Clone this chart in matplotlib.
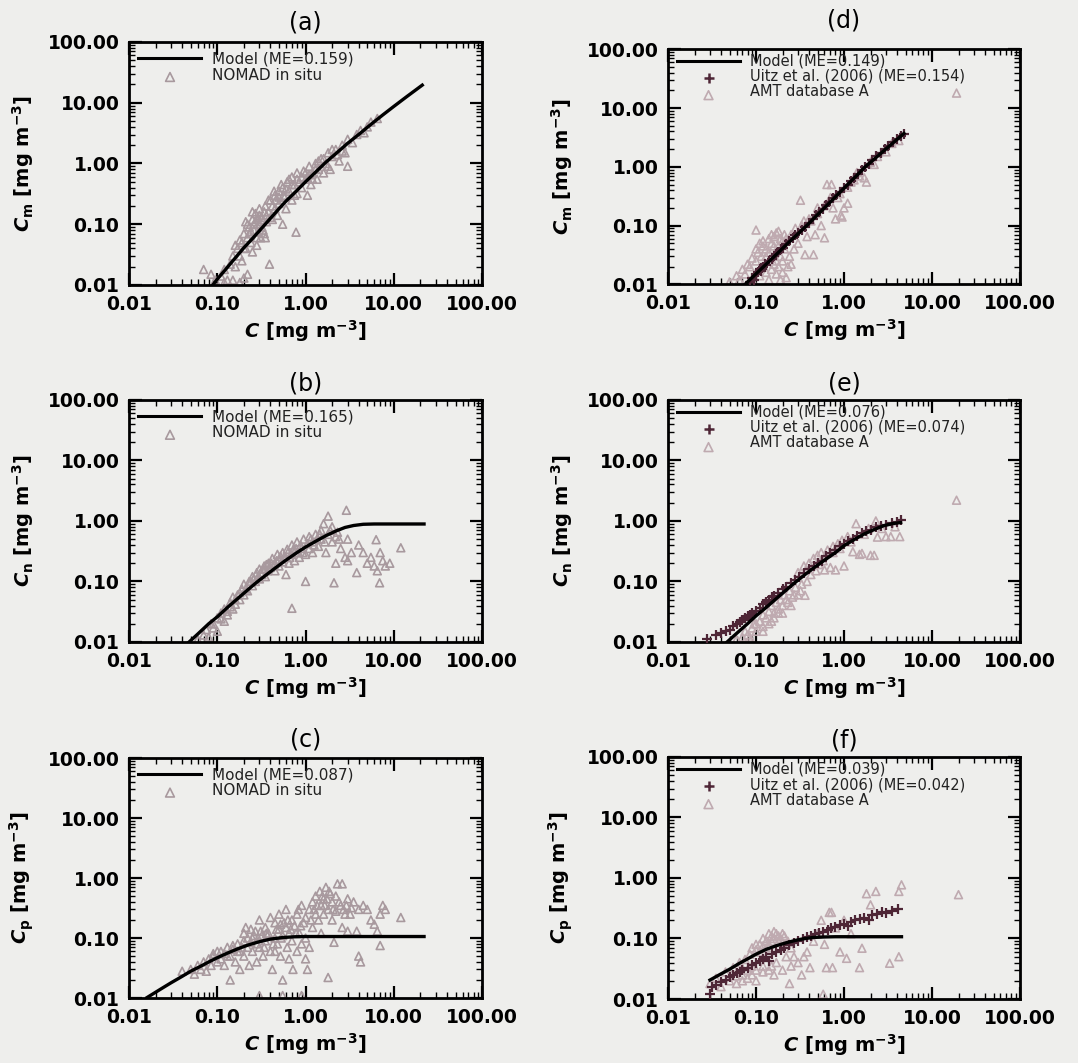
import numpy as np
import matplotlib
matplotlib.use('Agg')
import matplotlib.pyplot as plt
from matplotlib.ticker import LogLocator, FuncFormatter, NullFormatter

plt.rcParams['font.family'] = ['DejaVu Sans']
plt.rcParams['mathtext.fontset'] = 'custom'
plt.rcParams['mathtext.rm'] = 'DejaVu Sans:bold'
plt.rcParams['mathtext.it'] = 'DejaVu Sans:italic:bold'
plt.rcParams['mathtext.bf'] = 'DejaVu Sans:bold'

BG = '#eeeeec'
TRI_NOMAD = '#a8999e'
TRI_AMT = '#bfaab0'
CROSS = '#4e2636'

# ---- model curves ----
a_curve_C = [0.089, 0.1, 0.12, 0.15, 0.2, 0.25, 0.3, 0.4, 0.5, 0.6, 0.8, 1.0, 1.3, 1.7, 2.2, 3.0, 4.0,
             5.5, 7.5, 10.0, 14.0, 21.0]
a_curve_y = [0.010, 0.0125, 0.017, 0.025, 0.041, 0.058, 0.078, 0.125, 0.18, 0.24, 0.36, 0.50, 0.72, 1.05,
             1.45, 2.15, 3.0, 4.4, 6.3, 8.7, 12.6, 19.5]
b_curve_C = [0.048, 0.06, 0.08, 0.1, 0.13, 0.17, 0.22, 0.28, 0.35, 0.45, 0.6, 0.8, 1.0, 1.3, 1.7, 2.2,
             2.8, 3.5, 4.5, 6.0, 22.0]
b_curve_y = [0.010, 0.0135, 0.020, 0.026, 0.037, 0.052, 0.072, 0.097, 0.125, 0.165, 0.225, 0.30, 0.37,
             0.46, 0.57, 0.68, 0.78, 0.84, 0.88, 0.89, 0.89]
c_curve_C = [0.016, 0.02, 0.025, 0.03, 0.04, 0.05, 0.065, 0.08, 0.1, 0.13, 0.17, 0.22, 0.3, 0.4, 0.55,
             0.75, 1.0, 22.0]
c_curve_y = [0.0102, 0.0125, 0.0153, 0.018, 0.023, 0.028, 0.034, 0.040, 0.047, 0.056, 0.066, 0.076,
             0.087, 0.096, 0.102, 0.105, 0.106, 0.106]
d_curve_C = [0.075, 0.09, 0.11, 0.14, 0.18, 0.23, 0.3, 0.377, 0.5, 0.65, 0.85, 1.1, 1.4, 1.74, 2.2,
             2.8, 3.6, 4.8]
d_curve_y = [0.010, 0.013, 0.0173, 0.0244, 0.035, 0.050, 0.0725, 0.10, 0.153, 0.226, 0.339, 0.50,
             0.715, 1.0, 1.35, 1.85, 2.55, 3.7]
e_curve_C = [0.047, 0.06, 0.08, 0.1, 0.13, 0.17, 0.22, 0.28, 0.36, 0.46, 0.6, 0.8, 1.0, 1.33, 1.7,
             2.2, 2.8, 3.5, 4.4]
e_curve_y = [0.010, 0.0138, 0.020, 0.027, 0.037, 0.052, 0.072, 0.097, 0.13, 0.17, 0.225, 0.30, 0.39,
             0.50, 0.61, 0.72, 0.83, 0.90, 0.94]
f_curve_C = [0.03, 0.04, 0.05, 0.065, 0.08, 0.1, 0.13, 0.17, 0.22, 0.28, 0.36, 0.45, 0.6, 0.8, 1.0, 4.5]
f_curve_y = [0.0206, 0.026, 0.031, 0.039, 0.046, 0.055, 0.066, 0.076, 0.085, 0.093, 0.100, 0.104,
             0.106, 0.107, 0.107, 0.107]

# ---- NOMAD in situ (panels a-c) ----
a_tri_C = [0.070, 0.085, 0.095, 0.11, 0.12, 0.13, 0.14, 0.15, 0.16, 0.17, 0.18, 0.19, 0.20, 0.21,
           0.22, 0.23, 0.24, 0.25, 0.26, 0.27, 0.28, 0.30, 0.30, 0.32, 0.33, 0.35, 0.36, 0.38, 0.39,
           0.40, 0.42, 0.45, 0.45, 0.48, 0.50, 0.50, 0.55, 0.55, 0.58, 0.60, 0.62, 0.65, 0.70, 0.70,
           0.75, 0.78, 0.80, 0.80, 0.85, 0.90, 0.95, 1.0, 1.05, 1.1, 1.15, 1.2, 1.3, 1.35, 1.4, 1.5,
           1.6, 1.7, 1.8, 1.9, 2.0, 2.2, 2.4, 2.6, 2.8, 3.0, 3.0, 3.4, 3.8, 4.2, 4.6, 5.0, 5.5, 6.5,
           0.12, 0.15, 0.18, 0.20, 0.22, 0.25, 0.28, 0.31, 0.34, 0.23, 0.27, 0.29,
           0.16, 0.18, 0.20, 0.22, 0.24, 0.26, 0.28, 0.30, 0.32, 0.34, 0.36, 0.38, 0.40, 0.42, 0.44,
           0.46, 0.50, 0.53, 0.56, 0.60, 0.65, 0.70, 0.75, 0.80, 0.90, 1.0, 1.1, 1.2, 1.3, 1.4, 1.6,
           1.8, 2.0, 2.3, 2.6, 0.19, 0.21, 0.25, 0.29, 0.35]
a_tri_y = [0.018, 0.015, 0.012, 0.014, 0.018, 0.012, 0.022, 0.030, 0.020, 0.040, 0.030, 0.050, 0.070, 0.040,
           0.060, 0.090, 0.050, 0.120, 0.080, 0.150, 0.060, 0.10, 0.18, 0.13, 0.08, 0.20, 0.11, 0.16, 0.022,
           0.25, 0.12, 0.30, 0.18, 0.14, 0.35, 0.22, 0.10, 0.40, 0.28, 0.18, 0.50, 0.35, 0.60, 0.25,
           0.45, 0.074, 0.70, 0.32, 0.50, 0.40, 0.75, 0.55, 0.30, 0.90, 0.45, 0.70, 1.0, 0.55, 0.80, 1.2,
           0.70, 1.0, 1.5, 0.80, 1.3, 1.7, 1.1, 2.0, 1.5, 0.90, 2.5, 2.2, 3.0, 3.5, 3.2, 4.0, 4.8, 5.5,
           0.011, 0.012, 0.011, 0.013, 0.015, 0.035, 0.045, 0.06, 0.07, 0.07, 0.11, 0.13,
           0.045, 0.055, 0.040, 0.10, 0.075, 0.10, 0.12, 0.14, 0.09, 0.16, 0.14, 0.25, 0.13, 0.20, 0.35,
           0.25, 0.28, 0.45, 0.30, 0.38, 0.55, 0.45, 0.30, 0.55, 0.60, 0.70, 0.65, 0.55, 0.80, 1.1, 1.2,
           0.90, 1.7, 1.4, 1.6, 0.025, 0.11, 0.16, 0.075, 0.06]

b_tri_C = [0.06, 0.07, 0.075, 0.08, 0.085, 0.09, 0.10, 0.10, 0.11, 0.12, 0.12, 0.13, 0.14, 0.15, 0.15,
           0.16, 0.17, 0.18, 0.19, 0.20, 0.20, 0.22, 0.23, 0.25, 0.25, 0.27, 0.28, 0.30, 0.30, 0.32,
           0.34, 0.35, 0.37, 0.38, 0.40, 0.42, 0.45, 0.45, 0.48, 0.50, 0.50, 0.55, 0.55, 0.60, 0.60,
           0.62, 0.65, 0.68, 0.70, 0.70, 0.75, 0.80, 0.80, 0.85, 0.90, 0.95, 1.0, 1.0, 1.05, 1.1, 1.2,
           1.2, 1.3, 1.4, 1.5, 1.5, 1.6, 1.7, 1.8, 1.8, 2.0, 2.0, 2.1, 2.2, 2.3, 2.5, 2.9, 2.8, 3.0,
           3.0, 3.3, 3.8, 4.0, 4.5, 5.0, 5.5, 6.3, 6.0, 6.5, 7.0, 6.9, 7.5, 8.0, 9.0, 12.0,
           0.09, 0.11, 0.13, 0.14, 0.16, 0.18, 0.21, 0.24, 0.26, 0.29, 0.31, 0.33, 0.36, 0.39, 0.41,
           0.44, 0.47, 0.52, 0.57, 0.63, 0.66, 0.72, 0.78, 0.83, 0.88, 0.93, 1.1, 1.15, 1.25, 1.35,
           1.45, 1.65, 1.9, 2.2, 2.4]
b_tri_y = [0.011, 0.013, 0.016, 0.012, 0.020, 0.017, 0.025, 0.015, 0.030, 0.022, 0.035, 0.028, 0.045, 0.035, 0.055,
           0.042, 0.060, 0.050, 0.075, 0.060, 0.090, 0.070, 0.10, 0.085, 0.12, 0.10, 0.14, 0.11, 0.16, 0.13,
           0.18, 0.12, 0.15, 0.20, 0.17, 0.24, 0.15, 0.20, 0.28, 0.18, 0.23, 0.30, 0.21, 0.25, 0.13,
           0.34, 0.20, 0.28, 0.036, 0.40, 0.22, 0.30, 0.45, 0.25, 0.35, 0.50, 0.10, 0.28, 0.42, 0.55, 0.30,
           0.45, 0.60, 0.38, 0.70, 0.50, 0.90, 0.30, 0.60, 1.20, 0.45, 0.80, 0.095, 0.20, 0.65, 0.35, 1.5, 0.25, 0.50,
           0.22, 0.30, 0.14, 0.40, 0.30, 0.20, 0.25, 0.49, 0.18, 0.15, 0.30, 0.095, 0.22, 0.18, 0.20, 0.36,
           0.020, 0.024, 0.032, 0.038, 0.050, 0.065, 0.075, 0.10, 0.11, 0.12, 0.14, 0.16, 0.19, 0.17, 0.20,
           0.19, 0.22, 0.26, 0.25, 0.30, 0.25, 0.33, 0.35, 0.30, 0.40, 0.30, 0.35, 0.50, 0.40, 0.50,
           0.60, 0.45, 0.70, 0.55, 0.50]

c_tri_C = [0.04, 0.05, 0.055, 0.06, 0.065, 0.07, 0.075, 0.08, 0.085, 0.09, 0.10, 0.10, 0.11, 0.12, 0.12,
           0.13, 0.14, 0.14, 0.15, 0.16, 0.17, 0.18, 0.18, 0.20, 0.20, 0.21, 0.22, 0.23, 0.25, 0.25,
           0.27, 0.28, 0.28, 0.30, 0.30, 0.32, 0.33, 0.35, 0.35, 0.38, 0.40, 0.40, 0.42, 0.45, 0.45,
           0.48, 0.50, 0.50, 0.52, 0.55, 0.55, 0.60, 0.60, 0.62, 0.65, 0.65, 0.70, 0.70, 0.72, 0.75,
           0.80, 0.80, 0.85, 0.90, 0.90, 0.95, 1.0, 1.0, 1.0, 1.05, 1.1, 1.1, 1.2, 1.2, 1.3, 1.3, 1.4,
           1.45, 1.5, 1.5, 1.6, 1.6, 1.7, 1.8, 1.8, 1.9, 2.0, 2.0, 2.1, 2.2, 2.3, 2.5, 2.6, 2.6, 2.8,
           3.0, 3.0, 3.3, 3.5, 3.8, 4.0, 4.0, 4.2, 4.5, 5.0, 5.5, 6.0, 6.5, 7.0, 7.0, 7.5, 8.0, 12.0,
           0.30, 0.55, 0.90,
           0.09, 0.11, 0.13, 0.15, 0.17, 0.19, 0.22, 0.24, 0.26, 0.29, 0.31, 0.34, 0.37, 0.43, 0.47,
           0.53, 0.57, 0.63, 0.68, 0.78, 0.83, 0.88, 1.15, 1.25, 1.35, 1.55, 1.65, 1.75, 1.85, 2.05,
           2.2, 2.4, 2.7, 2.9, 3.2, 0.20, 0.24, 0.36, 0.45, 0.52]
c_tri_y = [0.028, 0.030, 0.025, 0.035, 0.030, 0.040, 0.028, 0.045, 0.035, 0.050, 0.040, 0.060, 0.045, 0.055, 0.035,
           0.070, 0.050, 0.020, 0.065, 0.040, 0.080, 0.060, 0.030, 0.090, 0.050, 0.15, 0.070, 0.035, 0.10, 0.060,
           0.13, 0.080, 0.040, 0.070, 0.20, 0.11, 0.050, 0.090, 0.15, 0.12, 0.060, 0.22, 0.030, 0.10, 0.18,
           0.080, 0.14, 0.25, 0.050, 0.11, 0.020, 0.30, 0.15, 0.070, 0.12, 0.045, 0.20, 0.090, 0.030, 0.16,
           0.25, 0.060, 0.12, 0.080, 0.35, 0.18, 0.045, 0.10, 0.22, 0.030, 0.070, 0.30, 0.15, 0.40, 0.25, 0.50, 0.20,
           0.60, 0.35, 0.12, 0.45, 0.25, 0.70, 0.30, 0.022, 0.55, 0.20, 0.40, 0.085, 0.28, 0.80, 0.35, 0.80, 0.15, 0.25,
           0.45, 0.13, 0.32, 0.40, 0.13, 0.050, 0.30, 0.040, 0.35, 0.30, 0.20, 0.17, 0.13, 0.075, 0.25, 0.35, 0.30, 0.22,
           0.011, 0.011, 0.011,
           0.055, 0.060, 0.050, 0.075, 0.060, 0.070, 0.10, 0.085, 0.11, 0.10, 0.13, 0.070, 0.11, 0.080, 0.14,
           0.10, 0.18, 0.20, 0.14, 0.12, 0.30, 0.16, 0.20, 0.30, 0.35, 0.50, 0.35, 0.45, 0.60, 0.30,
           0.50, 0.40, 0.30, 0.35, 0.25, 0.12, 0.14, 0.12, 0.060, 0.17]

# ---- Uitz et al. (2006) and AMT database A (panels d-f) ----
d_cross_C = [0.085, 0.09, 0.095, 0.10, 0.105, 0.11, 0.115, 0.12, 0.125, 0.13, 0.14, 0.15, 0.16, 0.17, 0.18,
             0.19, 0.20, 0.22, 0.24, 0.26, 0.28, 0.30, 0.33, 0.36, 0.40, 0.44, 0.48, 0.52, 0.57, 0.62,
             0.68, 0.75, 0.82, 0.90, 1.0, 1.1, 1.2, 1.3, 1.45, 1.6, 1.75, 1.9, 2.1, 2.3, 2.6, 2.9, 3.2,
             3.6, 4.0, 4.5, 4.8]
d_cross_y = [0.011, 0.013, 0.012, 0.015, 0.016, 0.018, 0.017, 0.020, 0.022, 0.021, 0.025, 0.027, 0.030, 0.033, 0.036,
             0.040, 0.042, 0.048, 0.055, 0.062, 0.068, 0.075, 0.085, 0.095, 0.11, 0.13, 0.15, 0.17, 0.19, 0.22,
             0.25, 0.29, 0.33, 0.38, 0.43, 0.50, 0.58, 0.65, 0.75, 0.88, 1.0, 1.1, 1.3, 1.5, 1.75, 2.0, 2.3,
             2.6, 3.0, 3.4, 3.6]
d_tri_C = [0.05, 0.06, 0.065, 0.07, 0.075, 0.08, 0.085, 0.09, 0.09, 0.10, 0.10, 0.105, 0.11, 0.115, 0.12,
           0.12, 0.13, 0.13, 0.14, 0.14, 0.15, 0.15, 0.16, 0.16, 0.17, 0.17, 0.18, 0.18, 0.19, 0.19,
           0.20, 0.20, 0.21, 0.22, 0.24, 0.25, 0.27, 0.30, 0.32, 0.33, 0.36, 0.38, 0.42, 0.45, 0.47,
           0.50, 0.55, 0.60, 0.64, 0.72, 0.75, 0.80, 0.85, 0.92, 0.95, 1.0, 1.1, 1.2, 1.3, 1.5, 1.7,
           1.8, 2.0, 2.4, 3.0, 3.5, 4.2, 19.0,
           0.10, 0.11, 0.12, 0.13, 0.14, 0.15, 0.16, 0.17, 0.18, 0.19, 0.20, 0.21, 0.22, 0.23, 0.25,
           0.28, 0.35, 0.40, 0.50, 0.60, 0.70, 0.90, 1.1, 1.4, 2.2]
d_tri_y = [0.011, 0.014, 0.012, 0.018, 0.015, 0.022, 0.020, 0.012, 0.028, 0.025, 0.084, 0.035, 0.014, 0.030, 0.045,
           0.020, 0.016, 0.040, 0.060, 0.012, 0.018, 0.050, 0.022, 0.065, 0.015, 0.075, 0.020, 0.045, 0.012, 0.060,
           0.025, 0.016, 0.070, 0.013, 0.030, 0.022, 0.040, 0.050, 0.27, 0.10, 0.032, 0.065, 0.12, 0.032, 0.070,
           0.16, 0.10, 0.062, 0.50, 0.50, 0.20, 0.13, 0.30, 0.15, 0.14, 0.20, 0.24, 0.55, 0.60, 0.70, 0.65,
           0.55, 1.2, 1.5, 1.8, 2.5, 2.8, 18.0,
           0.040, 0.050, 0.055, 0.030, 0.035, 0.070, 0.045, 0.025, 0.080, 0.030, 0.055, 0.040, 0.060, 0.020, 0.070,
           0.090, 0.12, 0.13, 0.20, 0.22, 0.30, 0.35, 0.45, 0.80, 1.1]

e_cross_C = [0.028, 0.035, 0.04, 0.045, 0.05, 0.055, 0.06, 0.065, 0.07, 0.075, 0.08, 0.085, 0.09, 0.10, 0.11,
             0.12, 0.13, 0.14, 0.15, 0.16, 0.18, 0.20, 0.22, 0.25, 0.28, 0.31, 0.35, 0.40, 0.45, 0.50,
             0.56, 0.63, 0.70, 0.80, 0.90, 1.0, 1.1, 1.25, 1.4, 1.6, 1.8, 2.0, 2.3, 2.6, 3.0, 3.5, 4.0, 4.5]
e_cross_y = [0.011, 0.013, 0.014, 0.015, 0.016, 0.018, 0.020, 0.021, 0.023, 0.025, 0.027, 0.028, 0.030, 0.033, 0.037,
             0.042, 0.046, 0.050, 0.055, 0.058, 0.065, 0.075, 0.082, 0.093, 0.105, 0.12, 0.14, 0.16, 0.18, 0.20,
             0.22, 0.26, 0.29, 0.33, 0.38, 0.42, 0.46, 0.50, 0.56, 0.62, 0.68, 0.72, 0.78, 0.82, 0.87, 0.92, 0.95, 1.05]
e_tri_C = [0.06, 0.07, 0.075, 0.08, 0.09, 0.095, 0.10, 0.11, 0.12, 0.12, 0.13, 0.14, 0.15, 0.15, 0.16,
           0.17, 0.18, 0.19, 0.20, 0.21, 0.22, 0.24, 0.26, 0.28, 0.30, 0.33, 0.36, 0.30, 0.35, 0.40,
           0.45, 0.50, 0.55, 0.60, 0.70, 0.65, 0.75, 0.80, 0.85, 1.0, 0.95, 1.1, 1.26, 1.37, 1.5, 1.6,
           1.7, 2.0, 2.2, 2.3, 2.4, 2.7, 3.0, 3.4, 3.8, 4.3, 19.0,
           0.085, 0.10, 0.12, 0.14, 0.16, 0.18, 0.20, 0.23, 0.25, 0.27, 0.32, 0.38, 0.42, 0.48, 0.52,
           0.58, 0.75, 0.90, 1.2, 1.9]
e_tri_y = [0.011, 0.012, 0.015, 0.013, 0.017, 0.020, 0.015, 0.022, 0.018, 0.028, 0.025, 0.032, 0.022, 0.040, 0.030,
           0.045, 0.035, 0.050, 0.040, 0.060, 0.050, 0.070, 0.055, 0.080, 0.060, 0.090, 0.059, 0.14, 0.18, 0.20,
           0.24, 0.27, 0.30, 0.155, 0.17, 0.33, 0.38, 0.155, 0.42, 0.18, 0.48, 0.55, 0.31, 0.90, 0.28, 0.29,
           0.60, 0.27, 0.27, 1.0, 0.54, 0.75, 0.55, 0.55, 0.80, 0.55, 2.2,
           0.012, 0.020, 0.015, 0.020, 0.025, 0.030, 0.030, 0.045, 0.040, 0.060, 0.070, 0.10, 0.13, 0.15, 0.19,
           0.22, 0.30, 0.35, 0.45, 0.75]

f_cross_C = [0.03, 0.032, 0.035, 0.04, 0.045, 0.05, 0.055, 0.06, 0.065, 0.07, 0.08, 0.09, 0.10, 0.11, 0.12,
             0.13, 0.14, 0.15, 0.17, 0.19, 0.21, 0.24, 0.27, 0.30, 0.34, 0.38, 0.42, 0.47, 0.52, 0.58,
             0.65, 0.72, 0.80, 0.90, 1.0, 1.1, 1.2, 1.35, 1.5, 1.7, 1.9, 2.1, 2.4, 2.7, 3.0, 3.5, 4.1]
f_cross_y = [0.012, 0.016, 0.017, 0.019, 0.021, 0.023, 0.025, 0.027, 0.028, 0.030, 0.033, 0.036, 0.040, 0.043, 0.046,
             0.050, 0.043, 0.055, 0.060, 0.065, 0.070, 0.077, 0.083, 0.090, 0.097, 0.105, 0.11, 0.118, 0.125, 0.13,
             0.14, 0.148, 0.155, 0.165, 0.175, 0.16, 0.19, 0.20, 0.21, 0.22, 0.20, 0.24, 0.25, 0.27, 0.26, 0.29, 0.31]
f_tri_C = [0.03, 0.035, 0.04, 0.045, 0.05, 0.055, 0.06, 0.065, 0.07, 0.075, 0.08, 0.085, 0.09, 0.10, 0.10,
           0.11, 0.12, 0.12, 0.13, 0.14, 0.15, 0.15, 0.16, 0.17, 0.18, 0.20, 0.20, 0.22, 0.24, 0.25,
           0.27, 0.30, 0.33, 0.38, 0.41, 0.45, 0.50, 0.55, 0.58, 0.60, 0.63, 0.68, 0.72, 0.74, 0.80,
           0.90, 1.0, 1.07, 1.2, 1.5, 1.6, 1.8, 2.0, 2.3, 3.3, 4.2, 4.2, 4.5, 20.0,
           0.09, 0.10, 0.11, 0.12, 0.13, 0.14, 0.15, 0.16, 0.17, 0.18, 0.19, 0.20, 0.21, 0.22, 0.23,
           0.06, 0.07, 0.08, 0.09, 0.10, 0.12, 0.14, 0.16, 0.25, 0.35]
f_tri_y = [0.018, 0.022, 0.016, 0.028, 0.020, 0.033, 0.024, 0.040, 0.020, 0.045, 0.030, 0.055, 0.025, 0.065, 0.030,
           0.080, 0.035, 0.10, 0.070, 0.12, 0.035, 0.090, 0.13, 0.040, 0.11, 0.030, 0.085, 0.050, 0.018, 0.070,
           0.050, 0.040, 0.025, 0.060, 0.033, 0.090, 0.12, 0.20, 0.012, 0.080, 0.033, 0.27, 0.27, 0.033, 0.15,
           0.060, 0.20, 0.047, 0.12, 0.033, 0.069, 0.55, 0.36, 0.60, 0.039, 0.050, 0.60, 0.77, 0.53,
           0.070, 0.080, 0.060, 0.075, 0.090, 0.080, 0.11, 0.10, 0.12, 0.090, 0.10, 0.12, 0.11, 0.080, 0.090,
           0.018, 0.025, 0.022, 0.035, 0.020, 0.028, 0.030, 0.025, 0.035, 0.050]

panels = [
    dict(tag='(a)', pos=[0.1197, 0.7319, 0.3275, 0.2286], yl=r'$\mathit{C}_\mathrm{m}$ [mg m$^{-3}$]',
         curve=(a_curve_C, a_curve_y), tri=(a_tri_C, a_tri_y), cross=None, me='0.159', tpad=9),
    dict(tag='(b)', pos=[0.1197, 0.3961, 0.3275, 0.2277], yl=r'$\mathit{C}_\mathrm{n}$ [mg m$^{-3}$]',
         curve=(b_curve_C, b_curve_y), tri=(b_tri_C, b_tri_y), cross=None, me='0.165', tpad=7),
    dict(tag='(c)', pos=[0.1197, 0.0611, 0.3275, 0.2258], yl=r'$\mathit{C}_\mathrm{p}$ [mg m$^{-3}$]',
         curve=(c_curve_C, c_curve_y), tri=(c_tri_C, c_tri_y), cross=None, me='0.087', tpad=8),
    dict(tag='(d)', pos=[0.6197, 0.7325, 0.3265, 0.2211], yl=r'$\mathit{C}_\mathrm{m}$ [mg m$^{-3}$]',
         curve=(d_curve_C, d_curve_y), tri=(d_tri_C, d_tri_y), cross=(d_cross_C, d_cross_y),
         me='0.149', me2='0.154', tpad=16),
    dict(tag='(e)', pos=[0.6197, 0.3961, 0.3265, 0.2277], yl=r'$\mathit{C}_\mathrm{n}$ [mg m$^{-3}$]',
         curve=(e_curve_C, e_curve_y), tri=(e_tri_C, e_tri_y), cross=(e_cross_C, e_cross_y),
         me='0.076', me2='0.074', tpad=7),
    dict(tag='(f)', pos=[0.6197, 0.0602, 0.3265, 0.2277], yl=r'$\mathit{C}_\mathrm{p}$ [mg m$^{-3}$]',
         curve=(f_curve_C, f_curve_y), tri=(f_tri_C, f_tri_y), cross=(f_cross_C, f_cross_y),
         me='0.039', me2='0.042', tpad=7),
]

fig = plt.figure(figsize=(10.78, 10.63), dpi=100, facecolor=BG)
fmt = FuncFormatter(lambda v, p: '%.2f' % v)

for p in panels:
    ax = fig.add_axes(p['pos'])
    ax.set_facecolor(BG)
    ax.set_xscale('log')
    ax.set_yscale('log')
    ax.set_xlim(0.01, 100)
    ax.set_ylim(0.01, 100)

    amt = p['cross'] is not None
    tcol = TRI_AMT if amt else TRI_NOMAD
    ax.scatter(p['tri'][0], p['tri'][1], marker='^', s=32, facecolors='none',
               edgecolors=tcol, linewidths=1.2, zorder=2)
    if amt:
        ax.scatter(p['cross'][0], p['cross'][1], marker='+', s=45, color=CROSS,
                   linewidths=1.6, zorder=3)
    ax.plot(p['curve'][0], p['curve'][1], color='black', lw=2.4, zorder=4)

    # key in the upper left, IDL style
    kw = dict(transform=ax.transAxes, color='#222222', va='center', ha='left')
    if amt:
        ax.plot([0.025, 0.205], [0.952, 0.952], transform=ax.transAxes, color='black', lw=2.2)
        ax.text(0.233, 0.950, 'Model (ME=%s)' % p['me'], fontsize=10.5, **kw)
        ax.text(0.233, 0.886, 'Uitz et al. (2006) (ME=%s)' % p['me2'], fontsize=10.5, **kw)
        ax.text(0.233, 0.822, 'AMT database A', fontsize=10.5, **kw)
        ax.scatter([0.115], [0.880], marker='+', s=60, color=CROSS, linewidths=1.8,
                   transform=ax.transAxes)
        ax.scatter([0.115], [0.805], marker='^', s=40, facecolors='none', edgecolors=TRI_AMT,
                   linewidths=1.2, transform=ax.transAxes)
    else:
        ax.plot([0.025, 0.205], [0.933, 0.933], transform=ax.transAxes, color='black', lw=2.2)
        ax.text(0.235, 0.930, 'Model (ME=%s)' % p['me'], fontsize=11, **kw)
        ax.text(0.235, 0.864, 'NOMAD in situ', fontsize=11, **kw)
        ax.scatter([0.116], [0.856], marker='^', s=40, facecolors='none', edgecolors=TRI_NOMAD,
                   linewidths=1.2, transform=ax.transAxes)

    for axis in (ax.xaxis, ax.yaxis):
        axis.set_major_locator(LogLocator(base=10, numticks=10))
        axis.set_minor_locator(LogLocator(base=10, subs=np.arange(2, 10), numticks=10))
        axis.set_major_formatter(fmt)
        axis.set_minor_formatter(NullFormatter())
    ax.tick_params(which='both', direction='in', top=True, right=True, color='black')
    ax.tick_params(which='major', length=9, width=1.6, labelsize=13.5, pad=7)
    ax.tick_params(which='minor', length=4, width=1.0)
    for lab in ax.get_xticklabels() + ax.get_yticklabels():
        lab.set_fontweight('bold')
    for sp in ax.spines.values():
        sp.set_linewidth(2.0)

    ax.set_xlabel(r'$\mathit{C}$ [mg m$^{-3}$]', fontsize=14, fontweight='bold', labelpad=3)
    ax.set_ylabel(p['yl'], fontsize=14, fontweight='bold', labelpad=8)
    ax.set_title(p['tag'], fontsize=17, pad=p['tpad'])

fig.savefig('out.png', dpi=100, facecolor=BG)
